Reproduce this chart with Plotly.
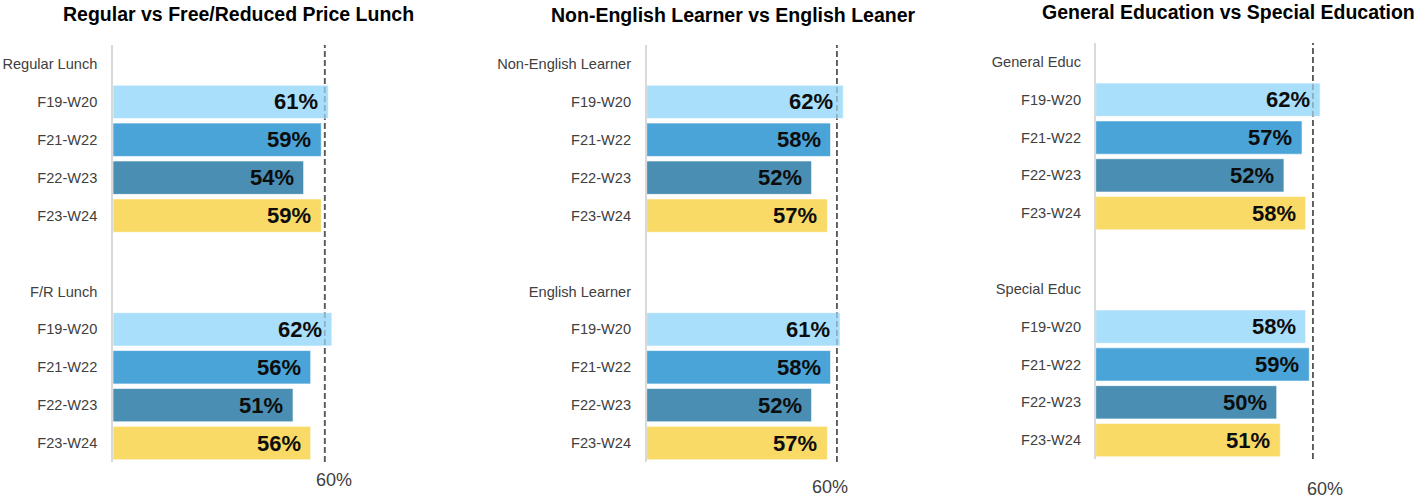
import plotly.graph_objects as go

# ---------------- data ----------------
periods = ["F19-W20", "F21-W22", "F22-W23", "F23-W24"]
period_colors = ["#A9DFFB", "#4BA4D7", "#4A8FB3", "#F9DA66"]

titles = [
    "Regular vs Free/Reduced Price Lunch",
    "Non-English Learner vs English Leaner",
    "General Education vs Special Education",
]
group_a_labels = ["Regular Lunch", "Non-English Learner", "General Educ"]
group_b_labels = ["F/R Lunch", "English Learner", "Special Educ"]

regular_lunch = [61, 59, 54, 59]
fr_lunch = [62, 56, 51, 56]
non_english_learner = [62, 58, 52, 57]
english_learner = [61, 58, 52, 57]
general_educ = [62, 57, 52, 58]
special_educ = [58, 59, 50, 51]

group_a_values = [regular_lunch, non_english_learner, general_educ]
group_b_values = [fr_lunch, english_learner, special_educ]

benchmark = 60
benchmark_label = "60%"

# ---------------- layout geometry (pixels) ----------------
W, H = 1416, 497
X_MAX = 65
panels = [
    dict(left=113.0, scale=3.53, top=45, bottom=462, title_x=238, title_y=14, bm_shift=9, bm_y=480, standoff=11),
    dict(left=646.7, scale=3.17, top=45, bottom=462, title_x=733, title_y=15, bm_shift=-7, bm_y=487, standoff=11),
    dict(left=1095.7, scale=3.62, top=43, bottom=459, title_x=1228, title_y=12, bm_shift=12, bm_y=489, standoff=10),
]

TICK_FONT = dict(family="Liberation Sans, Arial", size=14.6, color="#404040")
VALUE_FONT = dict(family="Liberation Sans, Arial", size=22, color="#0d0d0d")
TITLE_FONT = dict(family="Liberation Sans, Arial", size=19.5, color="#000000")

fig = go.Figure()
annotations = []
shapes = []
layout_axes = {}

for i, p in enumerate(panels):
    sfx = "" if i == 0 else str(i + 1)
    xa, ya = "x" + sfx, "y" + sfx
    a_vals, b_vals = group_a_values[i], group_b_values[i]

    y_pos = [1 + j for j in range(len(periods))] + [7 + j for j in range(len(periods))]
    x_vals = list(a_vals) + list(b_vals)
    colors = period_colors + period_colors

    fig.add_trace(go.Bar(
        x=x_vals, y=y_pos, orientation="h",
        marker=dict(color=colors, line=dict(color="rgba(255,255,255,0.6)", width=1)),
        width=0.88, xaxis=xa, yaxis=ya, showlegend=False,
        hovertemplate="%{x}%<extra></extra>",
    ))

    tickvals = list(range(11))
    ticktext = [group_a_labels[i]] + periods + [""] + [group_b_labels[i]] + periods

    right = p["left"] + X_MAX * p["scale"]
    layout_axes["xaxis" + sfx] = dict(
        domain=[p["left"] / W, right / W], range=[0, X_MAX], anchor=ya, automargin=False,
        showgrid=False, zeroline=False, showticklabels=False, showline=False, ticks="",
    )
    layout_axes["yaxis" + sfx] = dict(
        domain=[1 - p["bottom"] / H, 1 - p["top"] / H], range=[10.5, -0.5], anchor=xa,
        automargin=False,
        tickmode="array", tickvals=tickvals, ticktext=ticktext, tickfont=TICK_FONT,
        showgrid=False, zeroline=False, showline=True, linecolor="#d9d9d9", linewidth=1.5,
        ticks="", ticklabelstandoff=p["standoff"],
    )

    # benchmark dashed line: dark beneath the bars, faint over them
    for layer, col in (("below", "#595959"), ("above", "rgba(90,90,90,0.35)")):
        shapes.append(dict(
            type="line", xref=xa, yref=ya + " domain", x0=benchmark, x1=benchmark, y0=0, y1=1,
            line=dict(color=col, width=1.8, dash="6px,3px"), layer=layer,
        ))

    annotations.append(dict(
        text=benchmark_label, xref=xa, x=benchmark, xshift=p["bm_shift"], yref="paper",
        y=1 - p["bm_y"] / H, yanchor="middle", xanchor="center", showarrow=False,
        font=dict(family="Liberation Sans, Arial", size=18, color="#404040"),
    ))

    # value labels
    for xv, yv in zip(x_vals, y_pos):
        annotations.append(dict(
            text=f"<b>{xv}%</b>", xref=xa, yref=ya, x=xv, y=yv, xanchor="right", yanchor="middle",
            xshift=-8, showarrow=False, font=VALUE_FONT,
        ))

    annotations.append(dict(
        text=f"<b>{titles[i]}</b>", xref="paper", yref="paper", x=p["title_x"] / W,
        y=1 - p["title_y"] / H, xanchor="center", yanchor="middle", showarrow=False, font=TITLE_FONT,
    ))

fig.update_layout(
    width=W, height=H, margin=dict(l=0, r=0, t=0, b=0, autoexpand=False),
    paper_bgcolor="white", plot_bgcolor="white",
    annotations=annotations, shapes=shapes, bargap=0.12,
    **layout_axes,
)

fig.write_html(
    "out.html",
    config={"displayModeBar": False},
    post_script="document.body.style.margin='0px';document.body.style.overflow='hidden';",
)
